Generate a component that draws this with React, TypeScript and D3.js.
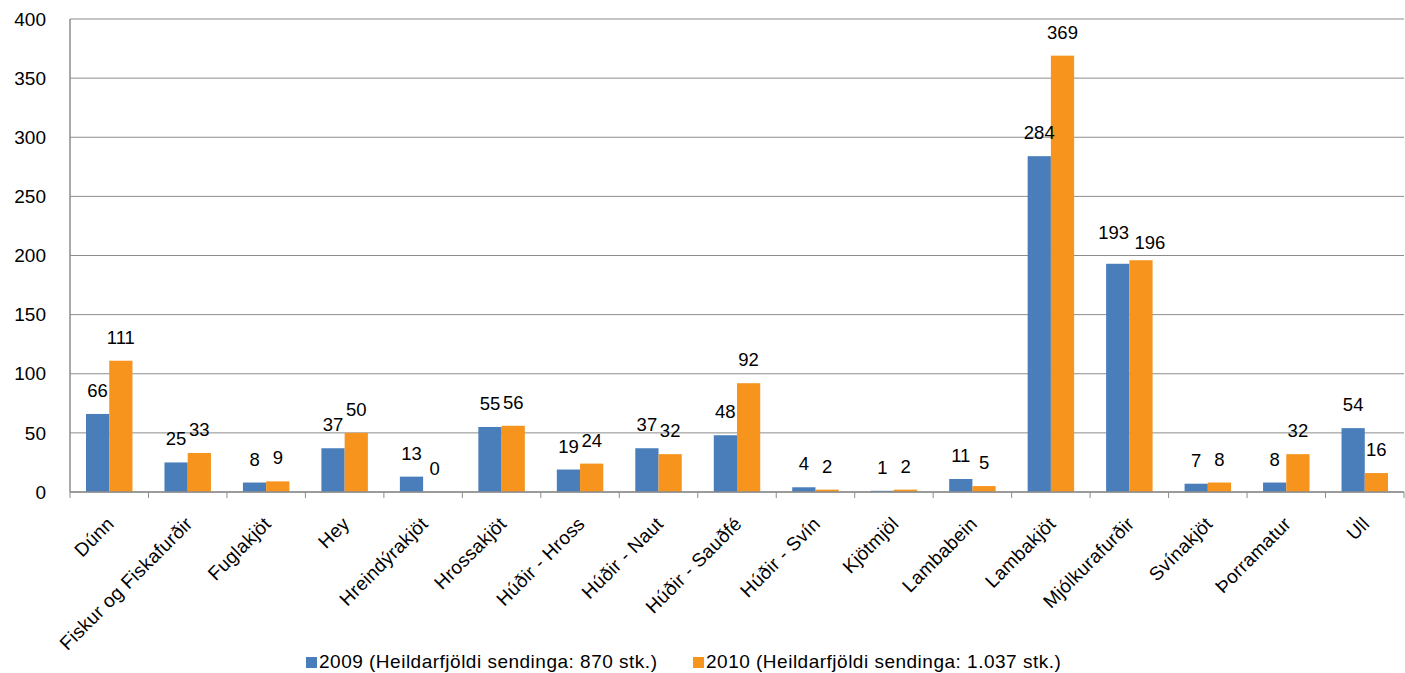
import React from "react";
import * as d3 from "d3";

const CATEGORIES = [
  "Dúnn",
  "Fiskur og Fiskafurðir",
  "Fuglakjöt",
  "Hey",
  "Hreindýrakjöt",
  "Hrossakjöt",
  "Húðir - Hross",
  "Húðir - Naut",
  "Húðir - Sauðfé",
  "Húðir - Svín",
  "Kjötmjöl",
  "Lambabein",
  "Lambakjöt",
  "Mjólkurafurðir",
  "Svínakjöt",
  "Þorramatur",
  "Ull",
];

const VALUES_2009 = [66, 25, 8, 37, 13, 55, 19, 37, 48, 4, 1, 11, 284, 193, 7, 8, 54];
const VALUES_2010 = [111, 33, 9, 50, 0, 56, 24, 32, 92, 2, 2, 5, 369, 196, 8, 32, 16];

const SERIES_NAMES = [
  "2009 (Heildarfjöldi sendinga: 870 stk.)",
  "2010 (Heildarfjöldi sendinga: 1.037 stk.)",
];

const Y_TICKS = [0, 50, 100, 150, 200, 250, 300, 350, 400];

const COLORS = ["#4A7EBB", "#F7941E"];
const FONT = "'Liberation Sans', Arial, sans-serif";

export default function App() {
  const width = 1405;
  const height = 673;
  const margin = { top: 19, right: 1, bottom: 181, left: 70 };
  const plotW = width - margin.left - margin.right;
  const plotH = height - margin.top - margin.bottom;

  const x = d3.scaleBand<string>().domain(CATEGORIES).range([0, plotW]);
  const x1 = d3.scaleBand<number>().domain([0, 1]).range([16, x.bandwidth() - 16]);
  const y = d3.scaleLinear().domain([0, 400]).range([plotH, 0]);

  const series = [VALUES_2009, VALUES_2010];

  // nudge paired labels apart when wide labels sit at nearly the same height
  const labelShift = (s: number, i: number) => {
    const a = VALUES_2009[i];
    const b = VALUES_2010[i];
    const clash = a >= 100 && b >= 100 && Math.abs(y(a) - y(b)) < 14;
    if (!clash) return { dx: 0, dy: 0 };
    return s === 0 ? { dx: -4, dy: -8 } : { dx: 9, dy: 6 };
  };

  return (
    <svg
      width={width}
      height={height}
      style={{ display: "block", position: "absolute", left: 0, top: 0 }}
      fontFamily={FONT}
    >
      <rect width={width} height={height} fill="#fff" />
      <g transform={`translate(${margin.left},${margin.top})`}>
        {/* gridlines */}
        {Y_TICKS.map((t) => (
          <line key={t} x1={0} x2={plotW} y1={y(t)} y2={y(t)} stroke="#8c8c8c" strokeWidth={1} />
        ))}
        {/* y axis */}
        <line x1={0} x2={0} y1={0} y2={plotH} stroke="#8c8c8c" strokeWidth={1.5} />
        {Y_TICKS.map((t) => (
          <text key={t} x={-24} y={y(t)} dy="0.35em" textAnchor="end" fontSize={19} fill="#000">
            {t}
          </text>
        ))}
        {/* x tick marks */}
        {CATEGORIES.map((c) => (
          <line key={c} x1={x(c)!} x2={x(c)!} y1={plotH} y2={plotH + 6} stroke="#8c8c8c" strokeWidth={1} />
        ))}
        <line x1={plotW} x2={plotW} y1={plotH} y2={plotH + 6} stroke="#8c8c8c" strokeWidth={1} />

        {/* bars */}
        {series.map((vals, s) =>
          CATEGORIES.map((c, i) => (
            <rect
              key={`${s}-${c}`}
              x={x(c)! + x1(s)!}
              y={y(vals[i])}
              width={x1.bandwidth()}
              height={plotH - y(vals[i])}
              fill={COLORS[s]}
            />
          ))
        )}
        <line x1={0} x2={plotW} y1={plotH} y2={plotH} stroke="#8c8c8c" strokeWidth={1.5} />

        {/* value labels */}
        {series.map((vals, s) =>
          CATEGORIES.map((c, i) => {
            const { dx, dy } = labelShift(s, i);
            return (
              <text
                key={`l${s}-${c}`}
                x={x(c)! + x1(s)! + x1.bandwidth() / 2 + dx}
                y={y(vals[i]) - 17 + dy}
                textAnchor="middle"
                fontSize={18.5}
                fill="#000"
              >
                {vals[i]}
              </text>
            );
          })
        )}

        {/* category labels */}
        {CATEGORIES.map((c) => {
          const cx = x(c)! + x.bandwidth() / 2 + 6;
          const cy = plotH + 33;
          return (
            <text
              key={`c${c}`}
              transform={`translate(${cx},${cy}) rotate(-45)`}
              textAnchor="end"
              fontSize={19}
              letterSpacing={0.3}
              fill="#000"
            >
              {c}
            </text>
          );
        })}
      </g>

      {/* legend */}
      <g transform="translate(306,668)">
        <rect x={0} y={-11} width={11} height={11} fill={COLORS[0]} />
        <text x={13} y={0} fontSize={19} letterSpacing={0.5} fill="#000">
          {SERIES_NAMES[0]}
        </text>
        <rect x={387} y={-11} width={11} height={11} fill={COLORS[1]} />
        <text x={400} y={0} fontSize={19} letterSpacing={0.5} fill="#000">
          {SERIES_NAMES[1]}
        </text>
      </g>
    </svg>
  );
}
